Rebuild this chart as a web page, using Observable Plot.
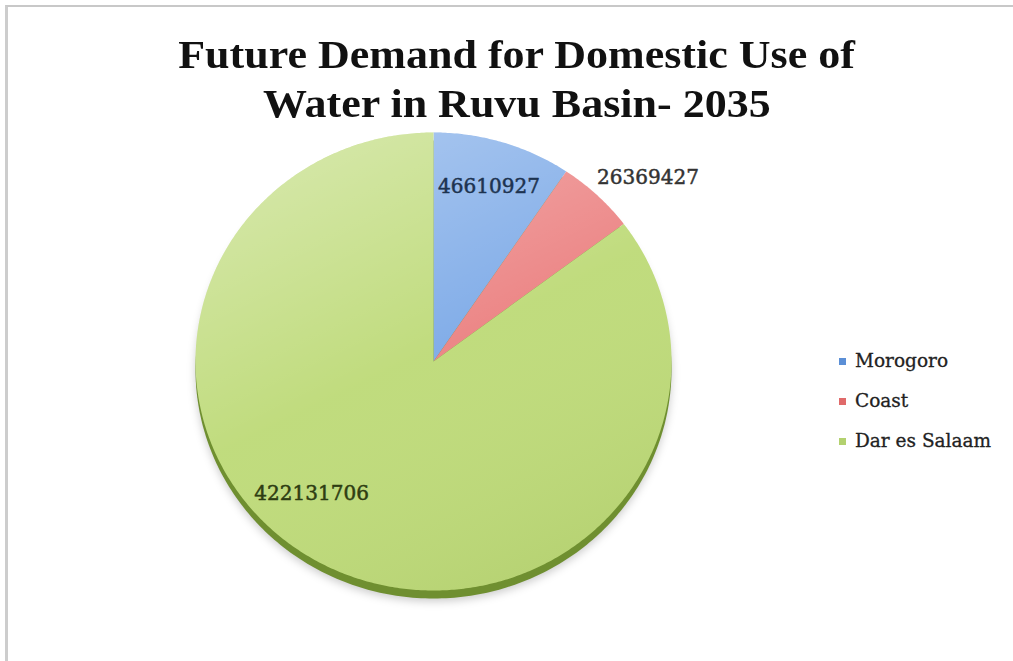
<!DOCTYPE html>
<html>
<head>
<meta charset="utf-8">
<script src="https://cdn.jsdelivr.net/npm/d3@7"></script>
<script src="https://cdn.jsdelivr.net/npm/@observablehq/plot@0.6"></script>
<style>
html, body { margin: 0; padding: 0; background: #fff; }
#wrap { position: relative; width: 1013px; height: 661px; overflow: hidden; }
#frame { position: absolute; left: 5px; top: 5px; width: 1200px; height: 900px;
  border-top: 2px solid #c8c8c8; border-left: 3px solid #cdcdcd; }
#chart { position: absolute; left: 0; top: 0; }
#title { position: absolute; left: 10px; top: 30px; width: 1013px; text-align: center;
  font-family: "Liberation Serif", serif; font-weight: bold; font-size: 40px; line-height: 49px; color: #111; }
#title span { display: inline-block; transform: scaleX(1.1); transform-origin: center; }
#legend { position: absolute; left: 839px; top: 341px; font-family: "DejaVu Serif", serif;
  font-size: 18.5px; color: #222; -webkit-text-stroke: 0.3px #222; }
.item { position: relative; height: 40px; line-height: 40px; padding-left: 16px; white-space: nowrap; }
.sw { position: absolute; left: 0; top: 17px; width: 7px; height: 7px; }
.shadow { filter: blur(4px); }
</style>
</head>
<body>
<div id="wrap">
  <div id="frame"></div>
  <div id="chart"></div>
  <div id="title"><span>Future Demand for Domestic Use of</span><br><span>Water in Ruvu Basin- 2035</span></div>
  <div id="legend"></div>
</div>
<script>
// ---- data ----
const names = ["Morogoro", "Coast", "Dar es Salaam"];
const values = [46610927, 26369427, 422131706];
const labels = ["46610927", "26369427", "422131706"];
const colors = ["#80ace8", "#ec8585", "#bfdb7b"];
const swatchColors = ["#5b8fd6", "#e06a6a", "#b3d16f"];
const labelColors = ["#1d3350", "#333333", "#2e3d12"];

// ---- geometry from the data ----
const arcs = d3.pie().sort(null).value(d => d)(values);
const slicePts = [];
arcs.forEach((a, i) => {
  slicePts.push({name: names[i], x: 0, y: 0});
  const n = Math.max(2, Math.ceil((a.endAngle - a.startAngle) / 0.01));
  for (let k = 0; k <= n; k++) {
    const t = a.startAngle + (a.endAngle - a.startAngle) * k / n;
    slicePts.push({name: names[i], x: Math.sin(t), y: Math.cos(t)});
  }
  slicePts.push({name: names[i], x: 0, y: 0});
});
const rim = d3.range(0, 361).map(d => ({x: Math.sin(d * Math.PI / 180), y: Math.cos(d * Math.PI / 180)}));
const labelRadius = [0.8, 1.2, 0.77];
const labelPts = arcs.map((a, i) => {
  const m = (a.startAngle + a.endAngle) / 2;
  return {name: names[i], label: labels[i], x: labelRadius[i] * Math.sin(m), y: labelRadius[i] * Math.cos(m)};
});

function defs() {
  const g = document.createElementNS("http://www.w3.org/2000/svg", "defs");
  g.innerHTML = `<linearGradient id="shade" x1="0.2" y1="0" x2="0.7" y2="1">
      <stop offset="0" stop-color="#ffffff" stop-opacity="0.36"/>
      <stop offset="0.5" stop-color="#ffffff" stop-opacity="0.02"/>
      <stop offset="1" stop-color="#405a00" stop-opacity="0.07"/>
    </linearGradient>`;
  return g;
}

const labelMark = (i, dx, dy) => Plot.text(labelPts.filter(d => d.name === names[i]), {
  x: "x", y: "y", text: "label", dx, dy, fill: labelColors[i], stroke: labelColors[i], strokeWidth: 0.5,
  fontFamily: "DejaVu Serif", fontSize: 20
});

const chart = Plot.plot({
  width: 1013,
  height: 661,
  style: {background: "transparent", overflow: "visible"},
  x: {domain: [-1, 1], range: [195, 671], axis: null},
  y: {domain: [-1, 1], range: [590, 132], axis: null},
  color: {domain: names, range: colors},
  marks: [
    defs,
    Plot.line(rim, {x: "x", y: "y", fill: "#000", fillOpacity: 0.2, stroke: "none", dy: 11, className: "shadow"}),
    Plot.line(rim, {x: "x", y: "y", fill: "#6f8f30", stroke: "none", dy: 8}),
    Plot.line(slicePts, {x: "x", y: "y", z: "name", fill: "name", stroke: "none"}),
    Plot.line(rim, {x: "x", y: "y", fill: "url(#shade)", stroke: "none"}),
    labelMark(0, 0, 0),
    labelMark(1, 18, 15),
    labelMark(2, -40, -26)
  ]
});
document.getElementById("chart").appendChild(chart);

const legend = d3.select("#legend");
names.forEach((n, i) => {
  const it = legend.append("div").attr("class", "item");
  it.append("span").attr("class", "sw").style("background", swatchColors[i]);
  it.append("span").text(n);
});
</script>
</body>
</html>
